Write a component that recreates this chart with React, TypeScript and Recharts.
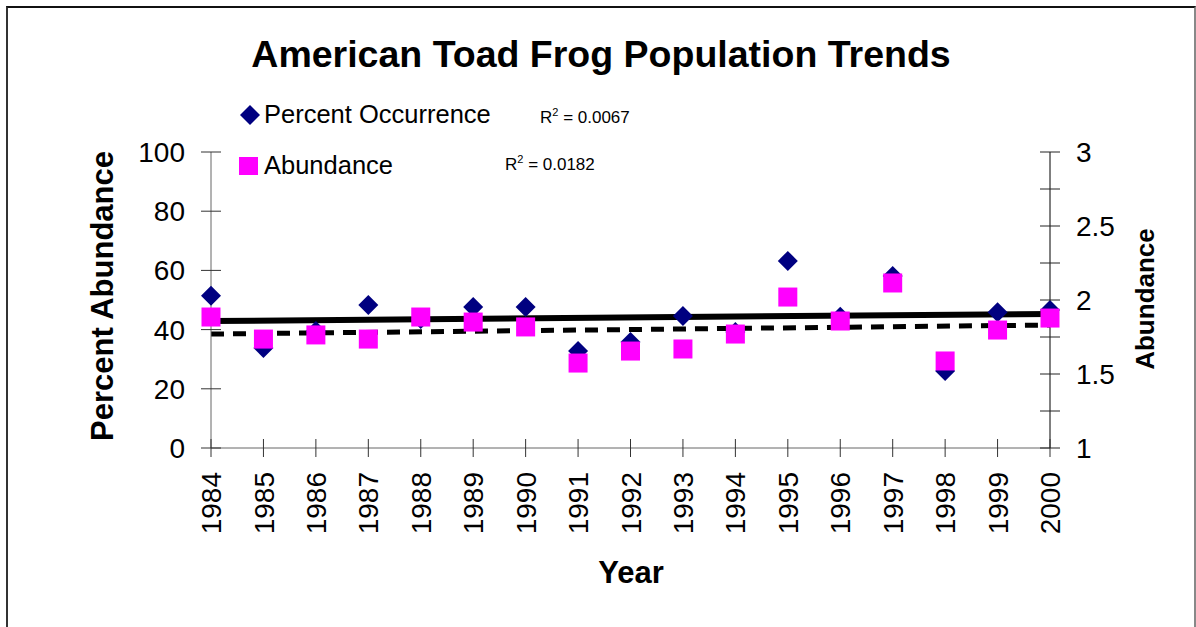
import React from 'react'
import {
  ComposedChart,
  Line,
  Scatter,
  XAxis,
  YAxis,
} from 'recharts'

const years = [
  1984, 1985, 1986, 1987, 1988, 1989, 1990, 1991, 1992, 1993, 1994, 1995,
  1996, 1997, 1998, 1999, 2000,
]

// left axis, percent
const percentOccurrence = [
  51.4, 33.8, 39.5, 48.3, 43.6, 47.6, 47.6, 32.8, 35.8, 44.6, 39.2, 63.2,
  44.3, 58.1, 26, 45.9, 46.6,
]

// right axis
const abundance = [
  1.885, 1.736, 1.764, 1.736, 1.885, 1.851, 1.818, 1.574, 1.655, 1.669, 1.77,
  2.02, 1.858, 2.115, 1.588, 1.797, 1.878,
]

// linear trend end points
const trendYears = [1984, 2000]
const percentTrend = [42.9, 45.3]
const abundanceTrend = [1.77, 1.831]

const leftTicks = [0, 20, 40, 60, 80, 100]
const rightTicks = [1, 1.25, 1.5, 1.75, 2, 2.25, 2.5, 2.75, 3]

const FONT = '"Liberation Sans", Arial, sans-serif'
const TICK_FONT = 28

const data = years.map((year, i) => {
  const t = trendYears.indexOf(year)
  return {
    year,
    pct: percentOccurrence[i],
    abd: abundance[i],
    pctFit: t >= 0 ? percentTrend[t] : undefined,
    abdFit: t >= 0 ? abundanceTrend[t] : undefined,
  }
})

function LeftTick({ x, y, payload }: any) {
  return (
    <g>
      <line x1={x - 10} x2={x + 10} y1={y} y2={y} stroke="#333" />
      <text
        x={x - 26}
        y={y}
        dy="0.36em"
        textAnchor="end"
        fontSize={TICK_FONT}
        fontFamily={FONT}
        fill="#000"
      >
        {payload.value}
      </text>
    </g>
  )
}

function RightTick({ x, y, payload }: any) {
  const v = payload.value
  const major = Number.isInteger(v * 2)
  return (
    <g>
      <line x1={x - 10} x2={x + 10} y1={y} y2={y} stroke="#222" />
      {major && (
        <text
          x={x + 26}
          y={y}
          dy="0.36em"
          textAnchor="start"
          fontSize={TICK_FONT}
          fontFamily={FONT}
          fill="#000"
        >
          {v}
        </text>
      )}
    </g>
  )
}

function BottomTick({ x, y, payload }: any) {
  const ty = y + 24
  return (
    <g>
      <line x1={x} x2={x} y1={y - 9} y2={y + 9} stroke="#333" />
      <text
        x={x}
        y={ty}
        dy="0.36em"
        textAnchor="end"
        transform={`rotate(-90, ${x}, ${ty})`}
        fontSize={TICK_FONT}
        fontFamily={FONT}
        fill="#000"
      >
        {payload.value}
      </text>
    </g>
  )
}

function Diamond({ cx, cy }: any) {
  const r = 10
  return (
    <polygon
      points={`${cx},${cy - r} ${cx + r},${cy} ${cx},${cy + r} ${cx - r},${cy}`}
      fill="#000080"
    />
  )
}

function Square({ cx, cy }: any) {
  return <rect x={cx - 9.5} y={cy - 9.5} width={19} height={19} fill="#FF00FF" />
}

export default function App() {
  return (
    <div
      style={{
        position: 'absolute',
        left: 0,
        top: 0,
        width: 1196,
        height: 627,
        overflow: 'hidden',
        background: '#fff',
        fontFamily: FONT,
        color: '#000',
      }}
    >
      <div
        style={{
          position: 'absolute',
          left: 6,
          top: 6,
          width: 1186,
          height: 660,
          borderLeft: '2px solid #333',
          borderTop: '2px solid #111',
          borderRight: '2px solid #888',
        }}
      />
      <div
        style={{
          position: 'absolute',
          left: 0,
          width: 1202,
          top: 32,
          textAlign: 'center',
          fontSize: 37.5,
          fontWeight: 'bold',
          lineHeight: '44px',
        }}
      >
        American Toad Frog Population Trends
      </div>

      <div style={{ position: 'absolute', left: 0, top: 0 }}>
        <ComposedChart
          width={1196}
          height={627}
          data={data}
          margin={{ top: 152, right: 46, bottom: 79, left: 111 }}
        >
          <XAxis
            dataKey="year"
            type="number"
            domain={[1984, 2000]}
            ticks={years}
            interval={0}
            height={100}
            tickSize={0}
            tickMargin={0}
            tickLine={false}
            axisLine={{ stroke: '#666' }}
            tick={<BottomTick />}
          />
          <YAxis
            yAxisId="left"
            domain={[0, 100]}
            ticks={leftTicks}
            interval={0}
            width={100}
            tickSize={0}
            tickMargin={0}
            tickLine={false}
            axisLine={{ stroke: '#666' }}
            tick={<LeftTick />}
          />
          <YAxis
            yAxisId="right"
            orientation="right"
            domain={[1, 3]}
            ticks={rightTicks}
            interval={0}
            width={100}
            tickSize={0}
            tickMargin={0}
            tickLine={false}
            axisLine={{ stroke: '#000' }}
            tick={<RightTick />}
          />
          <Scatter
            yAxisId="left"
            dataKey="pct"
            shape={<Diamond />}
            isAnimationActive={false}
          />
          <Scatter
            yAxisId="right"
            dataKey="abd"
            shape={<Square />}
            isAnimationActive={false}
          />
          <Line
            yAxisId="right"
            dataKey="abdFit"
            stroke="#000"
            strokeWidth={5}
            strokeDasharray="13 9"
            dot={false}
            activeDot={false}
            connectNulls
            isAnimationActive={false}
          />
          <Line
            yAxisId="left"
            dataKey="pctFit"
            stroke="#000"
            strokeWidth={6}
            dot={false}
            activeDot={false}
            connectNulls
            isAnimationActive={false}
          />
        </ComposedChart>
      </div>

      {/* legend */}
      <svg
        style={{ position: 'absolute', left: 0, top: 0 }}
        width={1196}
        height={627}
        pointerEvents="none"
      >
        <polygon points="250,105 260,115 250,125 240,115" fill="#000080" />
        <rect x={239} y={157} width={19} height={18} fill="#FF00FF" />
      </svg>
      <div
        style={{
          position: 'absolute',
          left: 264,
          top: 99,
          fontSize: 25.5,
          lineHeight: '30px',
        }}
      >
        Percent Occurrence
      </div>
      <div
        style={{
          position: 'absolute',
          left: 264,
          top: 150,
          fontSize: 25.5,
          lineHeight: '30px',
        }}
      >
        Abundance
      </div>
      <div
        style={{
          position: 'absolute',
          left: 540,
          top: 102,
          fontSize: 17,
          lineHeight: '20px',
        }}
      >
        R<sup style={{ fontSize: 11 }}>2</sup> = 0.0067
      </div>
      <div
        style={{
          position: 'absolute',
          left: 505,
          top: 149,
          fontSize: 17,
          lineHeight: '20px',
        }}
      >
        R<sup style={{ fontSize: 11 }}>2</sup> = 0.0182
      </div>

      {/* axis titles */}
      <div
        style={{
          position: 'absolute',
          left: 103,
          top: 296,
          transform: 'translate(-50%, -50%) rotate(-90deg)',
          whiteSpace: 'nowrap',
          fontSize: 31,
          fontWeight: 'bold',
        }}
      >
        Percent Abundance
      </div>
      <div
        style={{
          position: 'absolute',
          left: 1145,
          top: 299,
          transform: 'translate(-50%, -50%) rotate(-90deg)',
          whiteSpace: 'nowrap',
          fontSize: 26,
          fontWeight: 'bold',
        }}
      >
        Abundance
      </div>
      <div
        style={{
          position: 'absolute',
          left: 631,
          top: 573,
          transform: 'translate(-50%, -50%)',
          whiteSpace: 'nowrap',
          fontSize: 31,
          fontWeight: 'bold',
        }}
      >
        Year
      </div>
    </div>
  )
}
